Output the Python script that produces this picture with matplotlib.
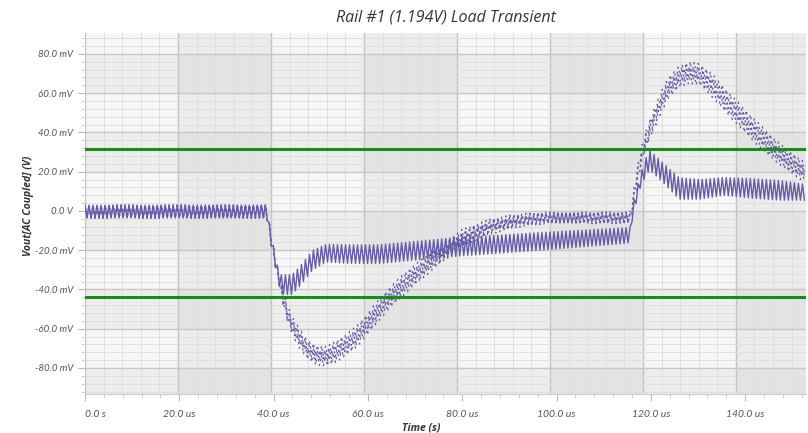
import numpy as np
import matplotlib
matplotlib.use("Agg")
import matplotlib.pyplot as plt
from matplotlib.ticker import FixedLocator, MultipleLocator

# values: time in us, voltage in mV
ripple_period_us = 0.85

solid_t = [0, 38.6, 39.0, 39.9, 40.7, 41.6, 43.9, 45.5, 48.3, 51.2, 56.1, 62.4,
           77.3, 97.9, 114.8, 115.7, 116.1, 116.6, 117.2, 117.9, 118.7, 119.7,
           122.8, 126.0, 130.4, 135.4, 141.5, 147.5, 152.8]
solid_mid = [-0.3, -0.3, -8, -20, -30, -37.5, -37.5, -33.5, -25, -21.5, -22, -22,
             -18.6, -15.3, -12.5, -12, 0, 4, 10, 16, 21, 26,
             19, 11.5, 11, 12.5, 11.5, 10.5, 9.5]
solid_pp = [6.5, 6.5, 6, 6, 6, 10, 10, 10, 10, 9, 9.5, 9.5,
            9.5, 9, 8, 8, 6, 6, 6, 6, 9, 10,
            10, 11, 10, 9, 10, 10, 8]

dash_t = [0, 38.6, 39.0, 39.9, 40.7, 41.9, 42.9, 43.9, 45.5, 47.2, 49.0, 51.2,
          53.3, 55.5, 57.6, 59.6, 61.8, 64.7, 68.7, 73.8, 79.8, 85.9, 91.5,
          97.9, 106.1, 114.8, 115.8, 116.4, 117.2, 118.2, 119.2, 120.7, 122.3,
          123.8, 126.1, 128.2, 130.4, 133.2, 136.1, 138.9, 141.5, 144.5, 147.3,
          150.1, 152.8]
dash_a = [-0.3, -0.3, -8, -20, -30, -45, -54, -60.5, -67.5, -73, -76, -76.5,
          -74.5, -71, -67, -61.5, -55, -47, -38, -27.5, -16, -9.5, -6,
          -4, -3, -3, -2.5, 9, 21, 32, 40.5, 50, 59,
          66, 71.5, 73.5, 72.5, 67, 59, 52, 45.5, 38.5, 32,
          27, 22]
dash_b = [-0.3, -0.3, -8, -20, -30, -44, -52, -58, -65, -70.5, -73.5, -74,
          -71.5, -68, -64, -58.5, -52, -44, -35, -25, -14, -8, -5,
          -3.5, -3.5, -3.5, -3, 8, 19, 30, 38, 47, 56,
          63, 68.5, 70.5, 69.5, 63.5, 55.5, 48.5, 42, 35, 29,
          24, 19.5]
dash_c = [-0.3, -0.3, -8, -20, -30, -43, -50, -56, -62.5, -68, -71, -71.5,
          -68.5, -65, -61, -55.5, -49, -41, -32, -22.5, -12, -6.5, -4,
          -3, -4, -4, -3.5, 7, 17, 28, 35.5, 44, 53,
          60, 65.5, 67.5, 66.5, 60, 52, 45, 38.5, 31.5, 26,
          21, 17]
dash_pp = [6.5, 6.5, 6, 5, 5, 5, 5, 5, 5, 5, 5, 5,
           5, 5, 5, 5, 5, 5, 5, 5, 5, 5, 5,
           5, 5, 5, 5, 5, 5, 5, 5, 5, 5,
           5, 5, 5, 5, 5, 5, 5, 5, 5, 5,
           5, 5]

limit_hi = 31.4
limit_lo = -43.7

x_ticks = [0, 20, 40, 60, 80, 100, 120, 140]
x_labels = ["0.0 s", "20.0 us", "40.0 us", "60.0 us", "80.0 us",
            "100.0 us", "120.0 us", "140.0 us"]
y_ticks = [-80, -60, -40, -20, 0, 20, 40, 60, 80]
y_labels = ["-80.0 mV", "-60.0 mV", "-40.0 mV", "-20.0 mV", "0.0 V",
            "20.0 mV", "40.0 mV", "60.0 mV", "80.0 mV"]

trace_color = "#645ca6"
font = "Open Sans"
tick_font = "Lato"


def rippled(t_keys, mid, pp):
    # switching ripple drawn as a zigzag around the read centre line
    t = np.arange(0, t_keys[-1], ripple_period_us / 2)
    sign = np.where(np.arange(len(t)) % 2 == 0, 1.0, -1.0)
    return t, np.interp(t, t_keys, mid) + sign * np.interp(t, t_keys, pp) / 2


fig = plt.figure(figsize=(8.08, 4.33), dpi=100)
ax = fig.add_axes([85 / 808, 1 - 394.3 / 433, 720.5 / 808, 361 / 433])

x_max = 152.8
y_min, y_max = -93.4, 90.5
ax.set_xlim(0, x_max)
ax.set_ylim(y_min, y_max)
ax.set_facecolor("#f6f6f6")

# checker shading and grid (grid step in the picture is a bit narrower than the labels)
gx = 19.72
for k in range(-5, 5):
    if k % 2:
        ax.axhspan(20 * k, 20 * (k + 1), color="black", alpha=0.035, lw=0, zorder=0)
for k in range(8):
    if k % 2:
        ax.axvspan(gx * k, gx * (k + 1), color="black", alpha=0.04, lw=0, zorder=0)

for i in range(0, 40):
    xv = gx * i / 5
    if xv > x_max:
        break
    major = i % 5 == 0
    ax.axvline(xv, color="#c2c2c2" if major else "#dedede",
               lw=1.0 if major else 0.7, zorder=1)
for i in range(-25, 25):
    yv = 4 * i
    if yv < y_min or yv > y_max:
        continue
    major = i % 5 == 0
    ax.axhline(yv, color="#c8c8c8" if major else "#dfdfdf",
               lw=1.0 if major else 0.7, zorder=1)

# traces
for vals in (dash_a, dash_b, dash_c):
    t, v = rippled(dash_t, vals, dash_pp)
    ax.plot(t, v, color=trace_color, lw=0.9, ls=(0, (1.8, 2.4)), zorder=3)
t, v = rippled(solid_t, solid_mid, solid_pp)
ax.plot(t, v, color=trace_color, lw=1.0, zorder=4)

ax.axhline(limit_hi, color="#1a8a1a", lw=2.2, zorder=5)
ax.axhline(limit_lo, color="#1a8a1a", lw=2.2, zorder=5)

# axes cosmetics
for side in ("top", "right", "left"):
    ax.spines[side].set_visible(False)
ax.spines["bottom"].set_color("#cccccc")

ax.xaxis.set_major_locator(FixedLocator(x_ticks))
ax.xaxis.set_minor_locator(MultipleLocator(4))
ax.set_xticklabels(x_labels)
ax.yaxis.set_major_locator(FixedLocator(y_ticks))
ax.yaxis.set_minor_locator(MultipleLocator(4))
ax.set_yticklabels(y_labels)
ax.tick_params(which="major", color="#b8b8b8", length=5, width=0.8,
               labelcolor="#555555", labelsize=7.5, pad=6)
ax.tick_params(axis="y", which="major", labelsize=7, pad=3.5)
ax.tick_params(which="minor", color="#c8c8c8", length=3, width=0.6)
for lab in ax.get_xticklabels() + ax.get_yticklabels():
    lab.set_fontstyle("italic")
    lab.set_fontfamily(tick_font)
ax.get_xticklabels()[0].set_horizontalalignment("left")

fig.text(446 / 808, 1 - 18 / 433, "Rail #1 (1.194V) Load Transient",
         ha="center", va="center", fontsize=11.5, style="italic",
         color="#333333", family=font)
fig.text(28 / 808, 1 - 206 / 433, "Vout[AC Coupled] (V)", rotation=90,
         ha="center", va="center", fontsize=7.5, style="italic",
         weight="bold", color="#333333", family=font)
fig.text(421 / 808, 1 - 428 / 433, "Time (s)", ha="center", va="center",
         fontsize=7.5, style="italic", weight="bold", color="#333333", family=font)

fig.savefig("out.png", dpi=100)
